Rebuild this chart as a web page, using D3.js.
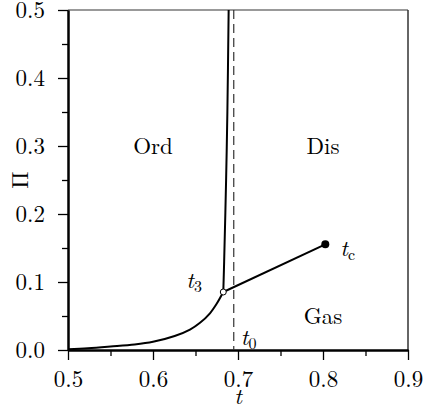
<!DOCTYPE html>
<html><head><meta charset="utf-8">
<script src="https://cdn.jsdelivr.net/npm/d3@7"></script>
<style>body{margin:0;background:#fff}svg{display:block}</style>
</head><body>
<svg id="c" width="424" height="410"></svg>
<script>
// Data
const lowT  = [0.5, 0.5235, 0.55, 0.5784, 0.6, 0.6255, 0.6435, 0.6553, 0.667, 0.6749, 0.6827];
const lowPi = [0.001, 0.0025, 0.005, 0.008, 0.012, 0.0205, 0.030, 0.040, 0.054, 0.068, 0.0853];
const ordT  = [0.6827, 0.6837, 0.686, 0.6875, 0.689];
const ordPi = [0.0853, 0.13, 0.25, 0.35, 0.5];
const gasT  = [0.6827, 0.8027];
const gasPi = [0.0853, 0.1554];
const t0 = 0.695;
const t3 = {t: 0.6827, pi: 0.0853};
const tc = {t: 0.8027, pi: 0.1554};
const xMajor = [0.5, 0.6, 0.7, 0.8, 0.9];
const xMinor = [0.55, 0.65, 0.75, 0.85];
const yMajor = [0.0, 0.1, 0.2, 0.3, 0.4, 0.5];
const yMinor = [0.05, 0.15, 0.25, 0.35, 0.45];
const regionLabels = ["Ord", "Dis", "Gas"];
const regionPos = [[0.6, 0.3], [0.8, 0.3], [0.8, 0.05]];

const FONT = '"Latin Modern Roman","CMU Serif","Liberation Serif",serif';
const FS = 23;
const svg = d3.select("#c");
const x = d3.scaleLinear().domain([0.5, 0.9]).range([68, 408]);
const y = d3.scaleLinear().domain([0, 0.5]).range([350, 10]);

// frame top/right
svg.append("line").attr("x1", x(0.5)).attr("x2", x(0.9)).attr("y1", y(0.5)).attr("y2", y(0.5))
  .attr("stroke", "#777").attr("stroke-width", 1.5);
svg.append("line").attr("x1", x(0.9)).attr("x2", x(0.9)).attr("y1", y(0.5)).attr("y2", y(0))
  .attr("stroke", "#333").attr("stroke-width", 1.5);

function styleAxis(g) {
  g.attr("font-family", null).attr("font-size", null);
  g.selectAll(".domain").attr("stroke", "#000").attr("stroke-width", 2);
  g.selectAll(".tick line").attr("stroke", "#000").attr("stroke-width", 1.3);
  g.selectAll("text").style("font-size", FS + "px").style("font-family", FONT).style("fill", "#000");
}
// minor ticks
svg.append("g").attr("transform", `translate(0,${y(0)})`)
  .call(d3.axisBottom(x).tickValues(xMinor).tickSize(6).tickSizeOuter(0).tickFormat(""))
  .call(styleAxis);
svg.append("g").attr("transform", `translate(${x(0.5)},0)`)
  .call(d3.axisLeft(y).tickValues(yMinor).tickSize(6).tickSizeOuter(0).tickFormat(""))
  .call(styleAxis);
// major
svg.append("g").attr("transform", `translate(0,${y(0)})`)
  .call(d3.axisBottom(x).tickValues(xMajor).tickSize(10).tickPadding(11).tickSizeOuter(0).tickFormat(d3.format(".1f")))
  .call(styleAxis);
svg.append("g").attr("transform", `translate(${x(0.5)},0)`)
  .call(d3.axisLeft(y).tickValues(yMajor).tickSize(10).tickPadding(13).tickSizeOuter(0).tickFormat(d3.format(".1f")))
  .call(styleAxis);

function txt(sel) { return sel.style("font-family", FONT).style("font-size", FS + "px").style("fill", "#000"); }

// axis titles
txt(svg.append("text")).attr("x", (x(0.5) + x(0.9)) / 2).attr("y", 404).attr("text-anchor", "middle")
  .attr("font-style", "italic").text("t");
txt(svg.append("text")).attr("transform", `translate(28,${(y(0) + y(0.5)) / 2}) rotate(-90)`)
  .attr("text-anchor", "middle").text("Π");

// dashed t0
svg.append("line").attr("x1", x(t0)).attr("x2", x(t0)).attr("y1", y(0.5)).attr("y2", y(0))
  .attr("stroke", "#333").attr("stroke-width", 1.2).attr("stroke-dasharray", "9,5");

const lineC = d3.line().curve(d3.curveCatmullRom.alpha(0.5));
const lineL = d3.line().curve(d3.curveLinear);
svg.append("path").attr("d", lineC(lowT.map((t, i) => [x(t), y(lowPi[i])])))
  .attr("fill", "none").attr("stroke", "#000").attr("stroke-width", 2);
svg.append("path").attr("d", lineC(ordT.map((t, i) => [x(t), y(ordPi[i])])))
  .attr("fill", "none").attr("stroke", "#000").attr("stroke-width", 2);
svg.append("path").attr("d", lineL(gasT.map((t, i) => [x(t), y(gasPi[i])])))
  .attr("fill", "none").attr("stroke", "#000").attr("stroke-width", 2);

svg.append("circle").attr("cx", x(tc.t)).attr("cy", y(tc.pi)).attr("r", 4).attr("fill", "#000");
svg.append("circle").attr("cx", x(t3.t)).attr("cy", y(t3.pi)).attr("r", 3).attr("fill", "#fff")
  .attr("stroke", "#000").attr("stroke-width", 1);

// region labels
regionLabels.forEach((s, i) => {
  txt(svg.append("text")).attr("x", x(regionPos[i][0])).attr("y", y(regionPos[i][1]))
    .attr("dy", "0.35em").attr("text-anchor", "middle").text(s);
});

function subLabel(px, py, sub) {
  const tx = txt(svg.append("text")).attr("x", px).attr("y", py);
  tx.append("tspan").attr("font-style", "italic").text("t");
  tx.append("tspan").style("font-size", "16px").attr("dy", 4).text(sub);
}
subLabel(x(tc.t) + 15, y(tc.pi) + 12, "c");
subLabel(x(t3.t) - 37, y(t3.pi) - 4, "3");
subLabel(x(t0) + 7, y(0) - 5, "0");
</script>
</body></html>
